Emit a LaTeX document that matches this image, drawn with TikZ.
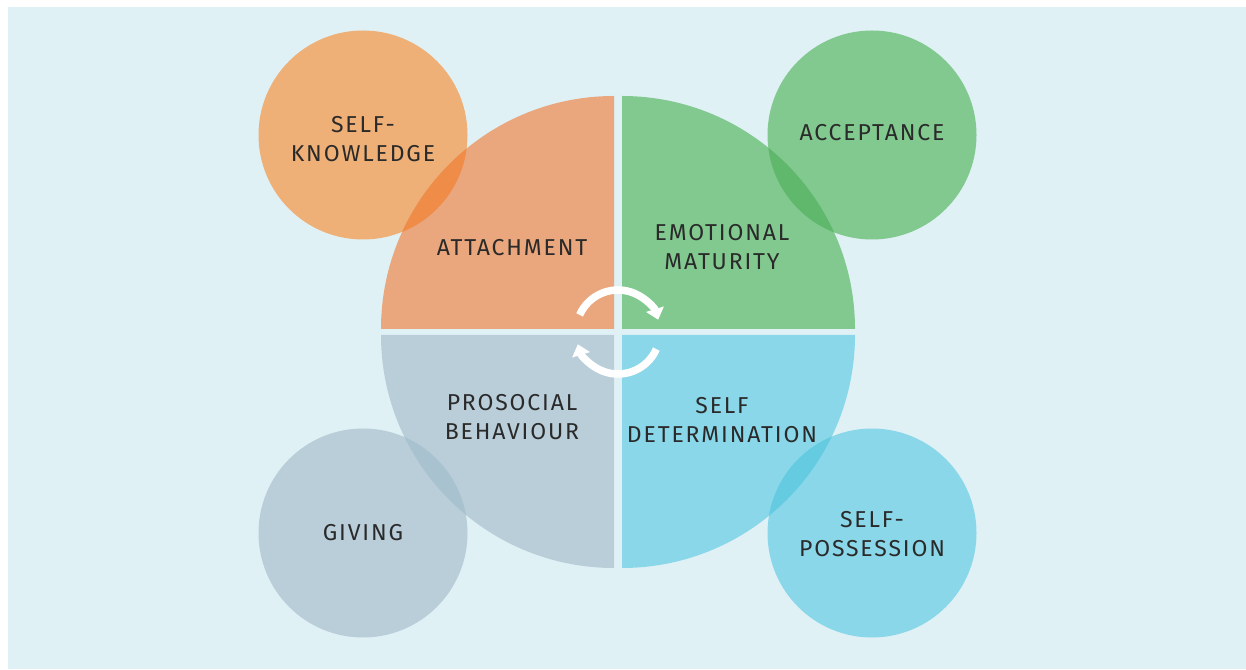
\documentclass[tikz,border=0pt]{standalone}
\usepackage{fontspec}
\setmainfont{Fira Sans}[LetterSpace=8]
\usetikzlibrary{arrows.meta}
\definecolor{bgblue}{HTML}{E0F1F6}
\definecolor{attach}{HTML}{EAA67C}
\definecolor{skc}{HTML}{EEB077}
\definecolor{orov}{HTML}{EF8C48}
\definecolor{greenq}{HTML}{82C98F}
\definecolor{greenov}{HTML}{5FB86B}
\definecolor{greyq}{HTML}{B9CED9}
\definecolor{greyov}{HTML}{A9C2CF}
\definecolor{blueq}{HTML}{8AD7E9}
\definecolor{blueov}{HTML}{64CBE1}
\definecolor{txt}{HTML}{2A2A2A}
\tikzset{
  lbl/.style={text=txt, font=\fontsize{23}{29}\selectfont, align=center, inner sep=0pt},
  cycarrow/.style={white, line width=7.5pt, -{Triangle[width=18pt,length=11pt]}}
}
\begin{document}
\begin{tikzpicture}[x=1pt,y=1pt]
\fill[white] (0,0) rectangle (1246,669);
\fill[bgblue] (8,0) rectangle (1246,662);
% small circles
\fill[skc] (363,534) circle (104.5);
\fill[greenq] (872,534) circle (104.5);
\fill[greyq] (363,136) circle (104.5);
\fill[blueq] (872,136) circle (104.5);
% quadrants
\def\qTL{(614,340) -- (381,340) arc[start angle=180,end angle=90,radius=233] -- cycle}
\def\qTR{(622,340) -- (622,573) arc[start angle=90,end angle=0,radius=233] -- cycle}
\def\qBL{(614,334) -- (381,334) arc[start angle=180,end angle=270,radius=233] -- cycle}
\def\qBR{(622,334) -- (855,334) arc[start angle=0,end angle=-90,radius=233] -- cycle}
\fill[attach] \qTL;
\fill[greenq] \qTR;
\fill[greyq] \qBL;
\fill[blueq] \qBR;
% overlaps
\begin{scope}\clip (363,534) circle (104.5); \fill[orov] \qTL; \end{scope}
\begin{scope}\clip (872,534) circle (104.5); \fill[greenov] \qTR; \end{scope}
\begin{scope}\clip (363,136) circle (104.5); \fill[greyov] \qBL; \end{scope}
\begin{scope}\clip (872,136) circle (104.5); \fill[blueov] \qBR; \end{scope}
% cycle arrows
\coordinate (c) at (618,337);
\draw[cycarrow] (c) ++(156:42) arc[start angle=156,end angle=17,radius=42];
\draw[cycarrow] (c) ++(-24:42) arc[start angle=-24,end angle=-163,radius=42];
% labels
\node[lbl] (sk) at (363,530) {SELF-\\KNOWLEDGE};
\node[lbl] (ac) at (872,536) {ACCEPTANCE};
\node[lbl] (at) at (512,421) {ATTACHMENT};
\node[lbl] (em) at (722,422) {EMOTIONAL\\MATURITY};
\node[lbl] (pr) at (512,252) {PROSOCIAL\\BEHAVIOUR};
\node[lbl] (sd) at (722,249) {SELF\\DETERMINATION};
\node[lbl] (gv) at (363,136) {GIVING};
\node[lbl] (sp) at (872,135) {SELF-\\POSSESSION};
\end{tikzpicture}
\end{document}
